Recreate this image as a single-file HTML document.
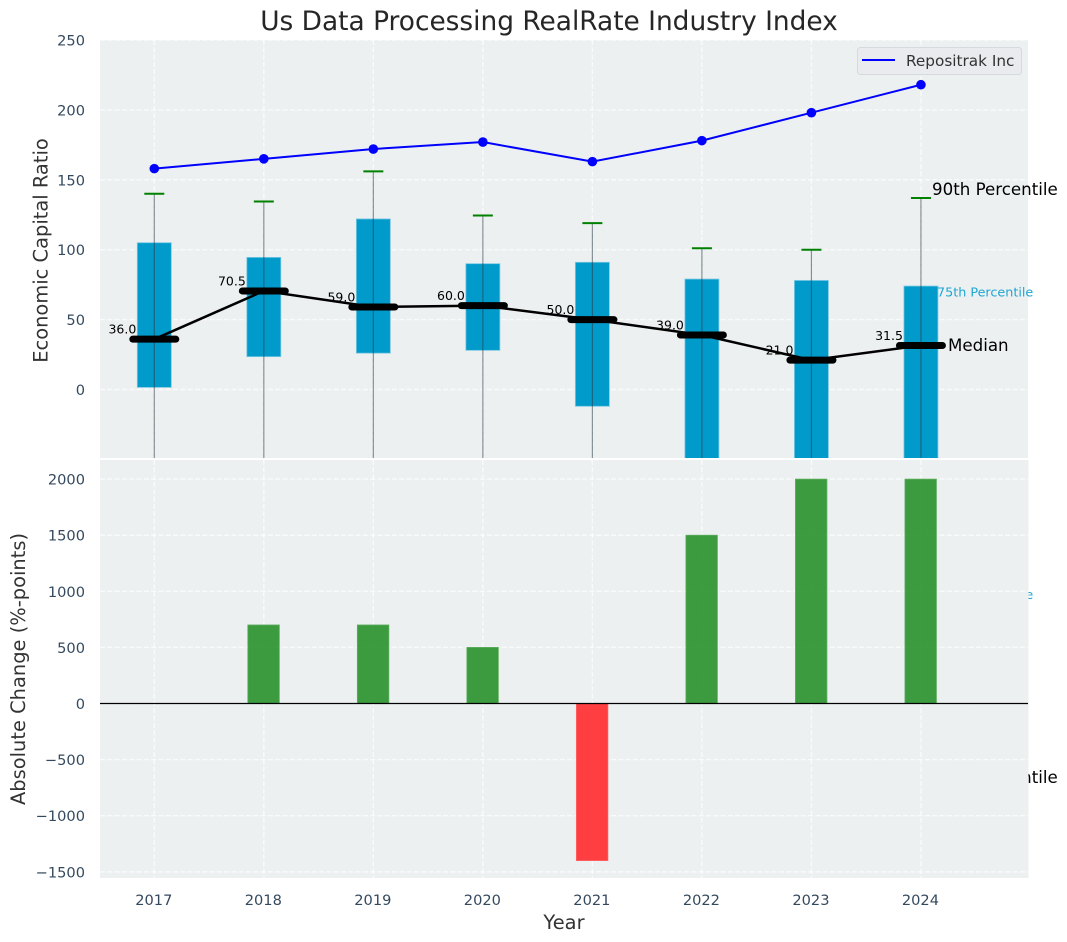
<!DOCTYPE html>
<html lang="en">
<head>
<meta charset="utf-8">
<title>Us Data Processing RealRate Industry Index</title>
<style>
html,body{margin:0;padding:0;background:#fff;width:1067px;height:942px;overflow:hidden}
svg{display:block;font-family:"DejaVu Sans","Liberation Sans",sans-serif}
</style>
</head>
<body>
<svg id="chart" xmlns="http://www.w3.org/2000/svg" width="1067" height="942" viewBox="0 0 1067 942">
  <defs>
    <clipPath id="top-clip"><rect x="100" y="40" width="928" height="418"></rect></clipPath>
    <clipPath id="bottom-clip"><rect x="100" y="460" width="928" height="418"></rect></clipPath>
  </defs>
  <text x="549" y="30" text-anchor="middle" font-size="26.4px" fill="#262626">Us Data Processing RealRate Industry Index</text>
  <rect x="100" y="40" width="928" height="418" fill="#ecf0f1"></rect>
  <g id="top-grid"></g>
  <g id="top-marks" clip-path="url(#top-clip)"></g>
  <g id="top-labels"></g>
  <text x="932" y="195" font-size="16.67px" fill="#000">90th Percentile</text>
  <text x="937" y="296.500" font-size="12.75px" fill="#1ea6d3">75th Percentile</text>
  <text x="948" y="351" font-size="16.67px" fill="#000">Median</text>
  <text x="937" y="599" font-size="12.75px" fill="#1ea6d3">25th Percentile</text>
  <text x="932" y="783" font-size="16.67px" fill="#000">10th Percentile</text>
  <rect x="100" y="460" width="928.500" height="418" fill="#ecf0f1"></rect>
  <g id="bottom-grid"></g>
  <g id="bottom-bars" clip-path="url(#bottom-clip)"></g>
  <line x1="100" x2="1028" y1="703.500" y2="703.500" stroke="#000" stroke-width="1.300"></line>
  <g id="axis-labels"></g>
  <g>
    <rect x="857.500" y="47.500" width="164" height="27" rx="3" fill="#e9ebef" stroke="#d6d9dd" stroke-width="1"></rect>
    <line x1="862" x2="895" y1="60" y2="60" stroke="#0000ff" stroke-width="2"></line>
    <text x="906" y="66" font-size="15.28px" fill="#333">Repositrak Inc</text>
  </g>
  <text transform="translate(47.500 250.500) rotate(-90)" text-anchor="middle" font-size="19.44px" fill="#333">Economic Capital Ratio</text>
  <text transform="translate(25 669) rotate(-90)" text-anchor="middle" font-size="19.44px" fill="#333">Absolute Change (%-points)</text>
  <text x="564" y="929" text-anchor="middle" font-size="19.44px" fill="#333">Year</text>
</svg>
<script>
const years = [2017, 2018, 2019, 2020, 2021, 2022, 2023, 2024];
const repositrak = [158, 165, 172, 177, 163, 178, 198, 218];
const median = [36, 70.5, 59, 60, 50, 39, 21, 31.5];
const medianText = ['36.0', '70.5', '59.0', '60.0', '50.0', '39.0', '21.0', '31.5'];
const p75 = [105, 94.5, 122, 90, 91, 79, 78, 74];
const p25 = [1.5, 23.5, 26, 28, -12, -60, -55, -60];
const p90 = [140, 134.5, 156, 124.5, 119, 101, 100, 137];
const p10 = [-80, -70, -75, -70, -90, -110, -100, -120];
const absChange = [0, 700, 700, 500, -1400, 1500, 2000, 2000];
const topTicks = [0, 50, 100, 150, 200, 250];
const bottomTicks = [-1500, -1000, -500, 0, 500, 1000, 1500, 2000];

const NS = 'http://www.w3.org/2000/svg';
const xAxis = function (year) { return 154.3 + (year - 2017) * 109.52; };
const yTop = function (v) { return 389.5 - v * 1.398; };
const yBottom = function (v) { return 703.5 - v * 0.1122; };

function make(tag, parentId, props) {
  const el = document.createElementNS(NS, tag);
  for (const key in props) { el.setAttribute(key, props[key]); }
  document.getElementById(parentId).appendChild(el);
  return el;
}

const gridStyle = { stroke: '#ffffff', 'stroke-width': 1.39, 'stroke-dasharray': '5.1 2.2', 'stroke-opacity': 0.7 };

topTicks.forEach(function (t) {
  const y = yTop(t);
  const grid = make('line', 'top-grid', Object.assign({ x1: 100, x2: 1028, y1: y, y2: y }, gridStyle));
  
  
  const label = make('text', 'axis-labels', { x: 85, y: y + 5.5, 'text-anchor': 'end', 'font-size': '14.6px', fill: '#34495e' });
  label.textContent = String(t);
  
  
});

bottomTicks.forEach(function (t) {
  const y = yBottom(t);
  const grid = make('line', 'bottom-grid', Object.assign({ x1: 100, x2: 1028, y1: y, y2: y }, gridStyle));
  
  
  const label = make('text', 'axis-labels', { x: 85, y: y + 5.5, 'text-anchor': 'end', 'font-size': '14.6px', fill: '#34495e' });
  label.textContent = String(t).replace('-', '\u2212');
  
  
});

years.forEach(function (yr) {
  const x = xAxis(yr);
  const gridA = make('line', 'top-grid', Object.assign({ x1: x, x2: x, y1: 40, y2: 458 }, gridStyle));
  
  
  const gridB = make('line', 'bottom-grid', Object.assign({ x1: x, x2: x, y1: 460, y2: 878 }, gridStyle));
  
  
  const label = make('text', 'axis-labels', { x: x - 0.5, y: 905, 'text-anchor': 'middle', 'font-size': '14.6px', fill: '#34495e' });
  label.textContent = String(yr);
  
  
});

years.forEach(function (yr, i) {
  const x = xAxis(yr);
  const top = yTop(p75[i]);
  const bottom = yTop(p25[i]);
  const box = make('rect', 'top-marks', { x: x - 17, y: top, width: 34, height: bottom - top, fill: '#009bcb', stroke: '#7cc8e2', 'stroke-width': 0.8 });
  
  
  const whisker = make('line', 'top-marks', { x1: x, x2: x, y1: yTop(p90[i]), y2: yTop(p10[i]), stroke: '#2b3b45', 'stroke-width': 1.2, 'stroke-opacity': 0.55 });
  
  
  const cap = make('line', 'top-marks', { x1: x - 10, x2: x + 10, y1: yTop(p90[i]), y2: yTop(p90[i]), stroke: '#008000', 'stroke-width': 2 });
  
  
});

const medianPath = make('polyline', 'top-marks', {
  points: years.map(function (yr, i) { return xAxis(yr) + ',' + yTop(median[i]); }).join(' '),
  fill: 'none', stroke: '#000', 'stroke-width': 2.5
});



years.forEach(function (yr, i) {
  const x = xAxis(yr);
  const y = yTop(median[i]);
  const bar = make('line', 'top-marks', { x1: x - 21.5, x2: x + 21.5, y1: y, y2: y, stroke: '#000', 'stroke-width': 7, 'stroke-linecap': 'round' });
  
  
  const label = make('text', 'top-labels', { x: x - 18, y: y - 5.5, 'text-anchor': 'end', 'font-size': '12.5px', fill: '#000' });
  label.textContent = medianText[i];
  
  
});

const companyPath = make('polyline', 'top-marks', {
  points: years.map(function (yr, i) { return xAxis(yr) + ',' + yTop(repositrak[i]); }).join(' '),
  fill: 'none', stroke: '#0000ff', 'stroke-width': 2
});



years.forEach(function (yr, i) {
  const dot = make('circle', 'top-marks', { cx: xAxis(yr), cy: yTop(repositrak[i]), r: 4.8, fill: '#0000ff' });
  
  
});

years.forEach(function (yr, i) {
  const v = absChange[i];
  if (v === 0) { return; }
  const x = xAxis(yr);
  const y0 = yBottom(0);
  const y1 = yBottom(v);
  const bar = make('rect', 'bottom-bars', {
    x: x - 16, y: Math.min(y0, y1), width: 31.5, height: Math.abs(y1 - y0),
    fill: v >= 0 ? '#2e9430' : '#ff3033', 'fill-opacity': 0.93,
    stroke: v >= 0 ? '#5fae60' : '#ff6264', 'stroke-width': 0.8
  });
  
  
});
</script>
</body>
</html>
